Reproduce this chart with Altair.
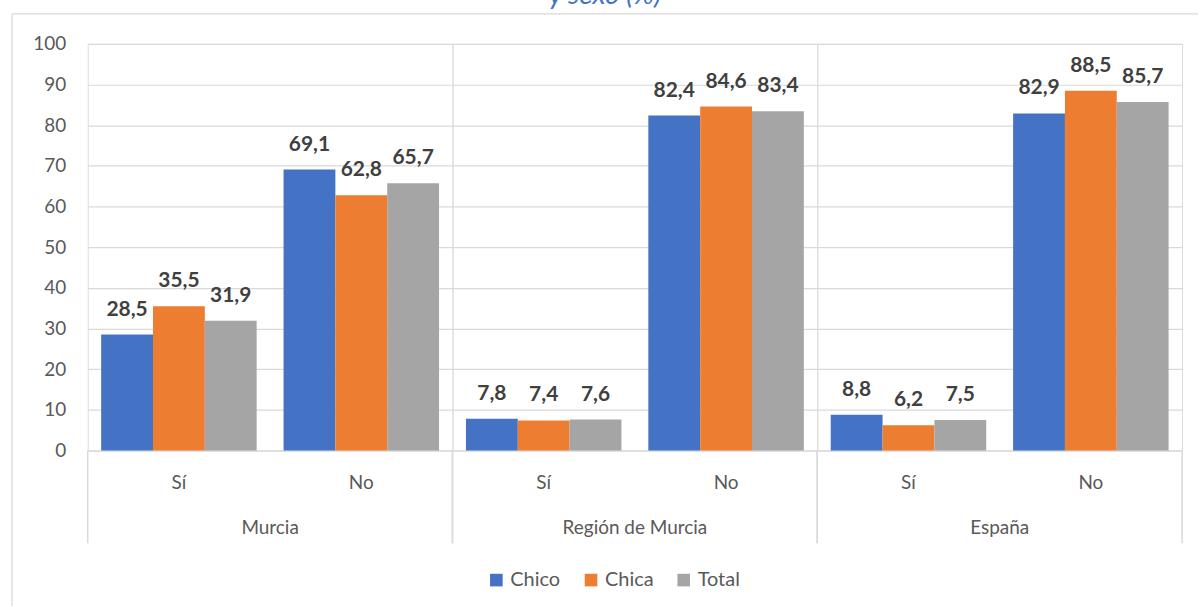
import altair as alt
import pandas as pd

FONT = "Lato"
regions = ["Murcia", "Región de Murcia", "España"]
answers = ["Sí", "No"]
series = ["Chico", "Chica", "Total"]
colors = ["#4472C4", "#ED7D31", "#A5A5A5"]

murcia_si = [28.5, 35.5, 31.9]
murcia_no = [69.1, 62.8, 65.7]
region_si = [7.8, 7.4, 7.6]
region_no = [82.4, 84.6, 83.4]
espana_si = [8.8, 6.2, 7.5]
espana_no = [82.9, 88.5, 85.7]

table = {
    ("Murcia", "Sí"): murcia_si,
    ("Murcia", "No"): murcia_no,
    ("Región de Murcia", "Sí"): region_si,
    ("Región de Murcia", "No"): region_no,
    ("España", "Sí"): espana_si,
    ("España", "No"): espana_no,
}
rows = []
for (reg, ans), vals in table.items():
    for s, v in zip(series, vals):
        rows.append({"region": reg, "answer": ans, "series": s, "value": v})
df = pd.DataFrame(rows)

W, H = 366, 408

x_enc = alt.X(
    "answer:N", sort=answers,
    scale=alt.Scale(paddingInner=0.1475, paddingOuter=0.0738),
    axis=alt.Axis(title=None, labelAngle=0, ticks=False, domainColor="#D9D9D9",
                  domainWidth=1.2, labelPadding=23, labelFontSize=19,
                  labelColor="#595959", labelFont=FONT, grid=False),
)
xo_enc = alt.XOffset("series:N", sort=series)
y_enc = alt.Y(
    "value:Q", scale=alt.Scale(domain=[0, 100]),
    axis=alt.Axis(values=list(range(0, 101, 10)), title=None, ticks=False,
                  domain=False, gridColor="#D9D9D9", gridWidth=1.2,
                  labelPadding=22, labelFontSize=19, labelColor="#595959",
                  labelFont=FONT),
)

bars = alt.Chart().mark_bar().encode(
    x=x_enc, xOffset=xo_enc, y=y_enc,
    color=alt.Color("series:N", sort=series,
                    scale=alt.Scale(domain=series, range=colors),
                    legend=alt.Legend(title=None, orient="none", direction="horizontal",
                                      legendX=400, legendY=528,
                                      symbolType="square", symbolSize=160,
                                      symbolStrokeWidth=0, labelFontSize=20,
                                      labelColor="#595959", labelFont=FONT,
                                      columnPadding=20, labelOffset=4)),
)

labels = alt.Chart().transform_calculate(
    label="replace(format(datum.value, '.1f'), '.', ',')"
).mark_text(fontSize=21, fontWeight="bold", color="#404040", font=FONT,
            baseline="middle", dy=-25).encode(
    x=x_enc, xOffset=xo_enc, y=y_enc, text="label:N"
)

one_row = "datum.answer == 'Sí' && datum.series == 'Chico'"
sep_left = alt.Chart().transform_filter(one_row).mark_rule(
    color="#D9D9D9", strokeWidth=1.5).encode(
    x=alt.value(0), y=alt.value(H), y2=alt.value(H + 93))
sep_right = alt.Chart().transform_filter(one_row).mark_rule(
    color="#D9D9D9", strokeWidth=1.5).encode(
    x=alt.value(W), y=alt.value(H), y2=alt.value(H + 93))

first = one_row + " && datum.region == 'Murcia'"
border_top = alt.Chart().transform_filter(first).mark_rule(
    color="#D9D9D9", strokeWidth=1.2).encode(
    x=alt.value(-76), x2=alt.value(1114), y=alt.value(-30))
border_left = alt.Chart().transform_filter(first).mark_rule(
    color="#D9D9D9", strokeWidth=1.2).encode(
    x=alt.value(-76), y=alt.value(-30), y2=alt.value(564))

layered = alt.layer(bars, labels, sep_left, sep_right, border_top, border_left,
                    data=df).properties(width=W, height=H)

chart = layered.facet(
    column=alt.Column("region:N", sort=regions,
                      header=alt.Header(title=None, labelOrient="bottom",
                                        labelPadding=27, labelFontSize=19,
                                        labelColor="#595959", labelFont=FONT)),
    spacing=0,
    bounds="flush",
).properties(
    title=alt.Title("y sexo (%)", fontStyle="italic", color="#4472C4", fontSize=28,
                    font=FONT, fontWeight="normal", offset=3, anchor="middle"),
    padding={"left": 10, "top": -20, "right": 0, "bottom": 0},
).configure_view(strokeWidth=0).configure(background="white")

chart.save("out.html", embed_options={"renderer": "svg", "actions": False})
